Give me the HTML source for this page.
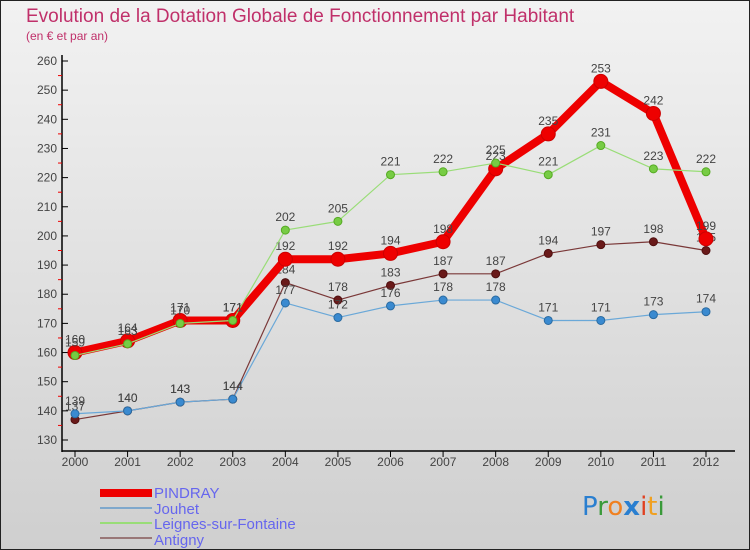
<!DOCTYPE html>
<html><head><meta charset="utf-8"><style>
body{margin:0;width:750px;height:550px;overflow:hidden;font-family:"Liberation Sans",sans-serif}
svg{display:block}
</style></head><body>
<svg id="c" width="750" height="550" xmlns="http://www.w3.org/2000/svg">
<defs><linearGradient id="bg" x1="0" y1="0" x2="0" y2="1"><stop offset="0" stop-color="#f2f2f2"/><stop offset="1" stop-color="#cfcfcf"/></linearGradient></defs>
<rect x="0.5" y="0.5" width="749" height="549" fill="url(#bg)" stroke="#222"/>
<text x="26" y="22" font-size="19" fill="#c0306a">Evolution de la Dotation Globale de Fonctionnement par Habitant</text>
<text x="26" y="40" font-size="12" fill="#c0306a">(en € et par an)</text>
<g id="axes"></g><g id="series"></g>
<g>
<rect x="100" y="489" width="52" height="8" fill="#e00"/>
<text x="154" y="498" font-size="15" fill="#6666ee">PINDRAY</text>
<line x1="100" y1="508" x2="152" y2="508" stroke="#7fa8cc" stroke-width="2"/>
<text x="154" y="514" font-size="15" fill="#6666ee">Jouhet</text>
<line x1="100" y1="523" x2="152" y2="523" stroke="#99dd77" stroke-width="2"/>
<text x="154" y="529" font-size="15" fill="#6666ee">Leignes-sur-Fontaine</text>
<line x1="100" y1="538" x2="152" y2="538" stroke="#997777" stroke-width="2"/>
<text x="154" y="545" font-size="15" fill="#6666ee">Antigny</text>
</g>
<g font-size="26" font-family="DejaVu Sans, sans-serif">
<text x="582" y="515"><tspan fill="#2a7fd0">P</tspan><tspan fill="#3a9a3a">r</tspan><tspan fill="#f08020">o</tspan><tspan fill="#2a7fd0" font-weight="bold">x</tspan><tspan fill="#e04020">i</tspan><tspan fill="#f0a020">t</tspan><tspan fill="#3a9a3a">i</tspan></text>
</g>
</svg>
<script>
const years=["2000","2001","2002","2003","2004","2005","2006","2007","2008","2009","2010","2011","2012"];
const pindray=[160,164,171,171,192,192,194,198,223,235,253,242,199];
const jouhet=[139,140,143,144,177,172,176,178,178,171,171,173,174];
const leignes=[159,163,170,171,202,205,221,222,225,221,231,223,222];
const antigny=[137,140,143,144,184,178,183,187,187,194,197,198,195];
const yTicks=[130,140,150,160,170,180,190,200,210,220,230,240,250,260];
const NS="http://www.w3.org/2000/svg";
const X=i=>75+i*(706-75)/12;
const Y=v=>440-(v-130)*(440-61)/130;
function mk(t,a,p){const e=document.createElementNS(NS,t);for(const k in a)e.setAttribute(k,a[k]);p.appendChild(e);return e;}
const ax=document.getElementById('axes');
let l=mk('line',{x1:62,y1:55,x2:62,y2:452,stroke:'#000','stroke-width':1.5},ax);


l=mk('line',{x1:62,y1:451,x2:735,y2:451,stroke:'#000','stroke-width':1.5},ax);


yTicks.forEach(v=>{
 mk('line',{x1:62,y1:Y(v),x2:68,y2:Y(v),stroke:'#000'},ax);
 if(v<260)mk('line',{x1:58,y1:Y(v+5),x2:62,y2:Y(v+5),stroke:'#e00'},ax);
 const t=mk('text',{x:57,y:Y(v)+4,'font-size':12,fill:'#444','text-anchor':'end'},ax);
 t.textContent=v;
 
 
});
years.forEach((y,i)=>{
 mk('line',{x1:X(i),y1:451,x2:X(i),y2:457,stroke:'#000'},ax);
 const t=mk('text',{x:X(i),y:466,'font-size':12,fill:'#444','text-anchor':'middle'},ax);
 t.textContent=y;
 
 
});
const sg=document.getElementById('series');
function draw(data,name,color,w,r,fillc,stroke){
 const g=mk('g',{},sg);
 
 
 mk('polyline',{points:data.map((v,i)=>X(i)+','+Y(v)).join(' '),fill:'none',stroke:color,'stroke-width':w,'stroke-linejoin':'round'},g);
 data.forEach((v,i)=>{
  const c=mk('circle',{cx:X(i),cy:Y(v),r:r,fill:fillc,stroke:stroke,'stroke-width':1},g);
  
  
  const t=mk('text',{x:X(i),y:Y(v)-9,'font-size':12,fill:'#444','text-anchor':'middle'},g);
  t.textContent=v;
  
  
 });
}
draw(antigny,'antigny','#7a3838',1.2,4,'#6a1a1a','#501010');
draw(jouhet,'jouhet','#6aa8d8',1.2,4,'#3a8ad0','#2a6aa0');
draw(pindray,'pindray','#ee0000',8,7,'#ee0000','#cc0000');
draw(leignes,'leignes','#99dd77',1.2,4,'#77cc44','#55aa22');
</script>
</body></html>
